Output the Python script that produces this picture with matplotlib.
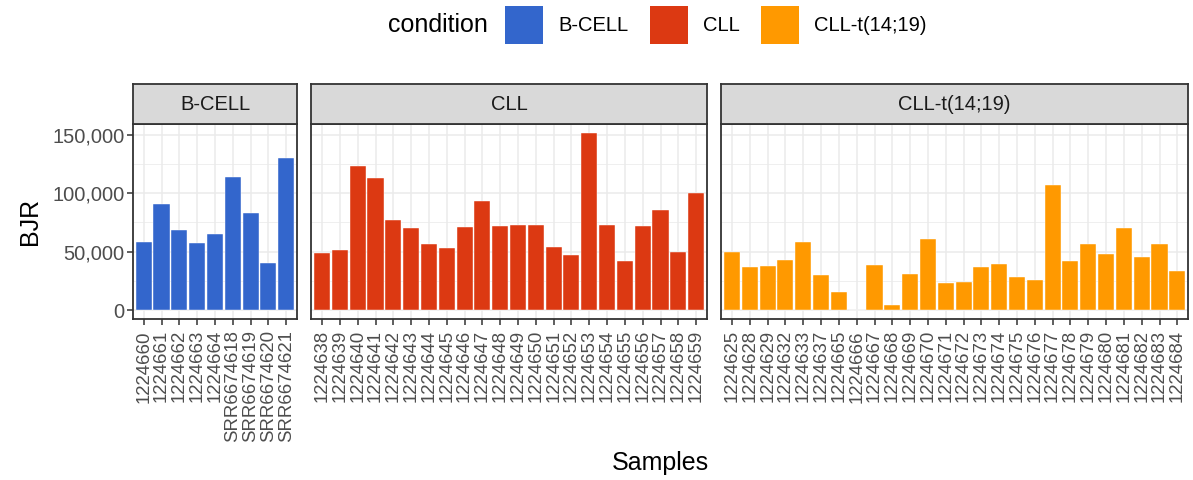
import matplotlib
matplotlib.use('Agg')
from matplotlib import pyplot as plt
from matplotlib.patches import Patch
from matplotlib.ticker import FuncFormatter, MultipleLocator

plt.rcParams['font.family'] = ['Liberation Sans', 'DejaVu Sans']

# data
bcell_samples = ['1224660', '1224661', '1224662', '1224663', '1224664',
                 'SRR6674618', 'SRR6674619', 'SRR6674620', 'SRR6674621']
bcell_bjr = [58200, 90900, 68200, 57700, 65300, 113900, 83200, 40600, 129800]

cll_samples = ['1224638', '1224639', '1224640', '1224641', '1224642', '1224643',
               '1224644', '1224645', '1224646', '1224647', '1224648', '1224649',
               '1224650', '1224651', '1224652', '1224653', '1224654', '1224655',
               '1224656', '1224657', '1224658', '1224659']
cll_bjr = [48600, 51400, 123000, 113100, 76700, 70500, 56800, 53100, 71300, 93500,
           71900, 72700, 72700, 53700, 46900, 151400, 72700, 42300, 71900, 85800,
           50000, 100300]

cllt_samples = ['1224625', '1224628', '1224629', '1224632', '1224633', '1224637',
                '1224665', '1224666', '1224667', '1224668', '1224669', '1224670',
                '1224671', '1224672', '1224673', '1224674', '1224675', '1224676',
                '1224677', '1224678', '1224679', '1224680', '1224681', '1224682',
                '1224683', '1224684']
cllt_bjr = [50000, 37200, 38100, 42600, 58500, 30400, 15900, 0, 38600, 4600,
            31000, 60800, 23300, 24200, 37200, 39200, 28700, 25600, 107100, 41800,
            56300, 47700, 69900, 45500, 56300, 33200]

conditions = ['B-CELL', 'CLL', 'CLL-t(14;19)']
colors = ['#3366CC', '#DC3912', '#FF9900']
panels = [(bcell_samples, bcell_bjr), (cll_samples, cll_bjr), (cllt_samples, cllt_bjr)]

W, H = 1193, 480
fig = plt.figure(figsize=(W / 100, H / 100), dpi=100)

ymax = max(max(bcell_bjr), max(cll_bjr), max(cllt_bjr))
left_px, right_px, gap_px = 133, 1188, 14.5
top_px, bot_px, strip_px = 124, 319, 40
ratios = [len(s) + 0.2 for s, _ in panels]
unit = (right_px - left_px - 2 * gap_px) / sum(ratios)

grid_c = '#EBEBEB'
border_c = '#333333'
x0 = left_px
for i, ((samples, vals), cond, col) in enumerate(zip(panels, conditions, colors)):
    w = ratios[i] * unit
    ax = fig.add_axes([x0 / W, 1 - bot_px / H, w / W, (bot_px - top_px) / H])
    ax.set_axisbelow(True)
    ax.bar(range(len(samples)), vals, width=0.9, color=col, edgecolor='white', linewidth=0.3)
    ax.set_xlim(-0.6, len(samples) - 0.4)
    ax.set_ylim(-0.05 * ymax, 1.05 * ymax)
    ax.set_xticks(range(len(samples)))
    ax.set_xticklabels(samples, rotation=90)
    ax.yaxis.set_major_locator(MultipleLocator(50000))
    ax.yaxis.set_minor_locator(MultipleLocator(25000))
    ax.yaxis.set_major_formatter(FuncFormatter(lambda v, p: f'{int(v):,}'))
    ax.grid(True, which='major', color=grid_c, linewidth=1.1)
    ax.grid(True, which='minor', axis='y', color=grid_c, linewidth=0.55)
    ax.tick_params(axis='both', which='major', length=4, width=1.1, color=border_c,
                   labelsize=14.5, labelcolor='#4D4D4D', pad=2)
    ax.tick_params(axis='x', labelsize=13.4, pad=4)
    ax.tick_params(axis='y', which='minor', length=0)
    if i > 0:
        ax.tick_params(axis='y', which='major', length=0, labelleft=False)
    for s in ax.spines.values():
        s.set_color(border_c)
        s.set_linewidth(1.3)

    # facet strip
    sax = fig.add_axes([x0 / W, 1 - top_px / H, w / W, strip_px / H])
    sax.set_facecolor('#D9D9D9')
    sax.set_xticks([])
    sax.set_yticks([])
    for s in sax.spines.values():
        s.set_color(border_c)
        s.set_linewidth(1.3)
    sax.text(0.5, 0.5, cond, ha='center', va='center', fontsize=14.5,
             color='#1A1A1A', transform=sax.transAxes)
    x0 += w + gap_px

fig.text((left_px + right_px) / 2 / W, 1 - 463 / H, 'Samples', ha='center', va='center', fontsize=18)
fig.text(30 / W, 1 - 221 / H, 'BJR', ha='center', va='center', rotation=90, fontsize=18)

# legend
fig.text(438 / W, 1 - 25 / H, 'condition', ha='center', va='center', fontsize=18)
handles = [Patch(facecolor=c, edgecolor='none') for c in colors]
fig.legend(handles, conditions, loc='center left', bbox_to_anchor=(505 / W, 1 - 25 / H),
           ncol=3, frameon=False, fontsize=14.5, handlelength=1.9, handleheight=2.5,
           handletextpad=0.75, columnspacing=1.05, borderaxespad=0, borderpad=0)

fig.savefig('out.png', dpi=100)
